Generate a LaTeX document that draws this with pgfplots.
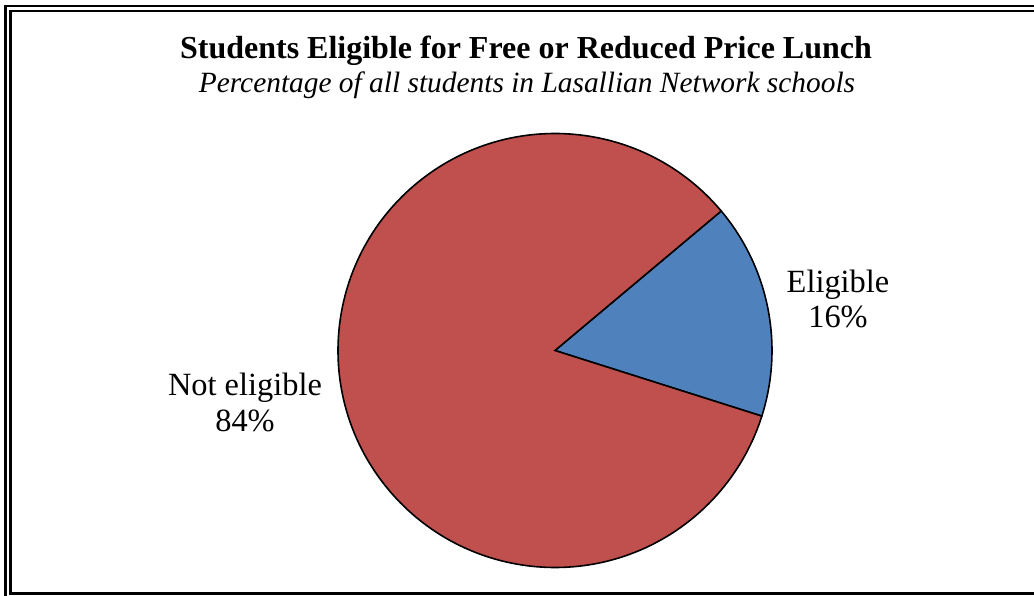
\documentclass[border=0pt]{standalone}
\usepackage{pgfplots}
\pgfplotsset{compat=1.18}
\usepackage{pgfplotstable}
\usepackage{fontspec}
\setmainfont{Liberation Serif}
\definecolor{pieblue}{HTML}{4F81BD}
\definecolor{piered}{HTML}{C0504D}

% slice values, percent
\pgfplotstableread{
label value
Eligible 16
Noteligible 84
}\piedata

\begin{document}
\begin{tikzpicture}
\pgfplotstablegetelem{0}{value}\of\piedata \let\valA\pgfplotsretval
\pgfplotstablegetelem{1}{value}\of\piedata \let\valB\pgfplotsretval
\pgfmathsetmacro{\aA}{-17.6}
\pgfmathsetmacro{\aB}{\aA+3.6*\valA}
\pgfmathsetmacro{\aC}{\aB+3.6*\valB}
\begin{axis}[
  x=0.5pt, y=0.5pt,
  xmin=0, xmax=1034, ymin=0, ymax=595,
  hide axis, scale only axis,
  anchor=south west, at={(0,0)},
  clip=true,
]
  % frame (double line, cut at right and bottom)
  \draw[line width=1.3pt] (axis cs:5.5,589) rectangle (axis cs:1060,-20);
  \draw[line width=1.3pt] (axis cs:10.5,584) rectangle (axis cs:1050,1.5);
  % pie
  \filldraw[fill=pieblue, draw=black, line width=0.8pt, line join=miter]
    (axis cs:555,244.5) -- ++(\aA:108.5pt) arc[start angle=\aA, end angle=\aB, radius=108.5pt] -- cycle;
  \filldraw[fill=piered, draw=black, line width=0.8pt, line join=miter]
    (axis cs:555,244.5) -- ++(\aB:108.5pt) arc[start angle=\aB, end angle=\aC, radius=108.5pt] -- cycle;
  % titles
  \node[anchor=base, font=\fontsize{16}{18}\selectfont\bfseries] at (axis cs:526,536)
    {Students Eligible for Free or Reduced Price Lunch};
  \node[anchor=base, font=\fontsize{14.7}{17}\selectfont\itshape] at (axis cs:527,502)
    {Percentage of all students in Lasallian Network schools};
  % labels
  \node[anchor=base, font=\fontsize{16.2}{18}\selectfont] at (axis cs:838,302) {Eligible};
  \node[anchor=base, font=\fontsize{16.2}{18}\selectfont] at (axis cs:838,267) {\valA\%};
  \node[anchor=base, font=\fontsize{16.2}{18}\selectfont] at (axis cs:245,199) {Not eligible};
  \node[anchor=base, font=\fontsize{16.2}{18}\selectfont] at (axis cs:245,163) {\valB\%};
\end{axis}
\pgfresetboundingbox
\useasboundingbox (0,0) rectangle (517pt,297.5pt);
\end{tikzpicture}
\end{document}
